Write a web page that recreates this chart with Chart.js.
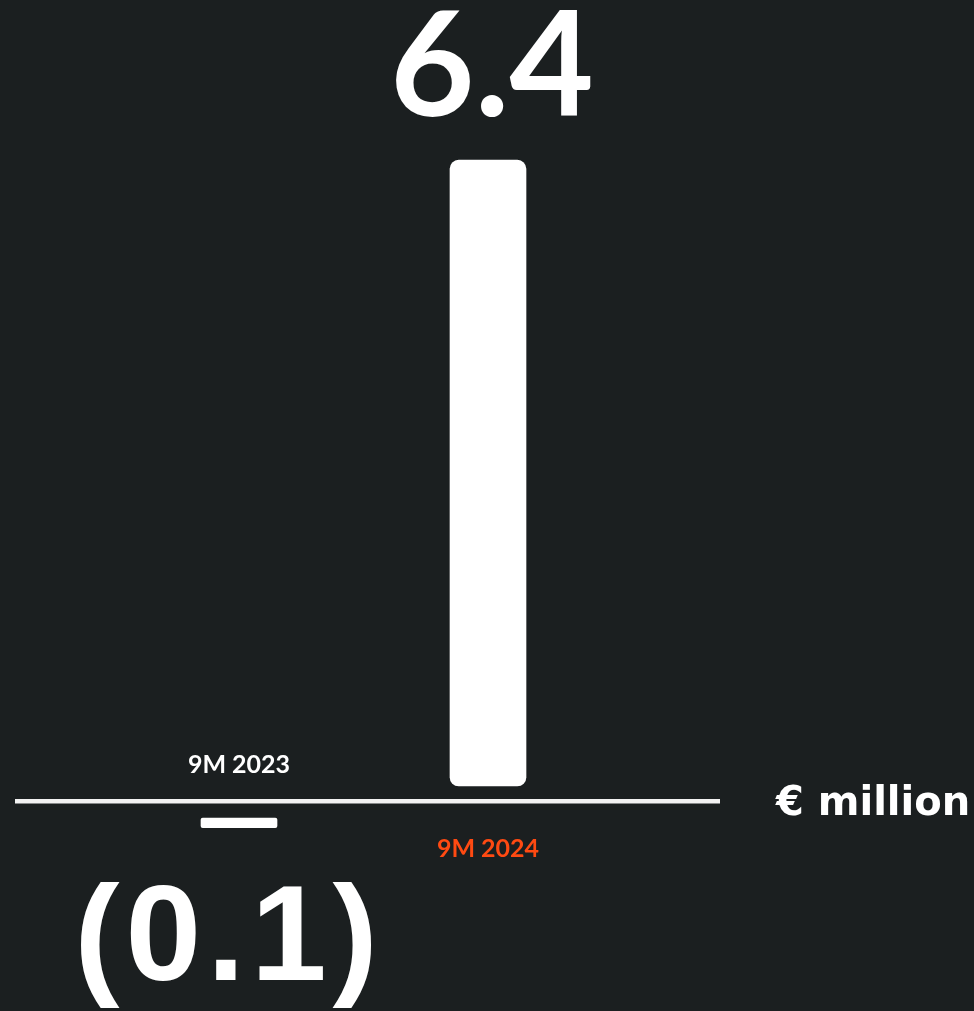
<!DOCTYPE html>
<html>
<head>
<meta charset="utf-8">
<script src="https://cdn.jsdelivr.net/npm/chart.js@4"></script>
<style>
  html, body { margin: 0; padding: 0; background: #1b1f20; }
  .chart-container { width: 974px; height: 1011px; position: relative; }
</style>
</head>
<body>
<div class="chart-container">
  <canvas id="chart"></canvas>
</div>
<script>
// Datos del gráfico
const categories = ['9M 2023', '9M 2024']
const values = [-0.1, 6.4]
const valueLabels = ['(0.1)', '6.4']
const unitLabel = '€ million'

const white = '#ffffff'
const orange = '#ff4a12'

// Separa las barras de la línea del eje
const barGap = { up: 15, down: 17 }

const gapPlugin = {
  id: 'gapPlugin',
  afterDatasetsUpdate(chart) {
    const meta = chart.getDatasetMeta(0)
    meta.data.forEach((bar, i) => {
      const shift = values[i] >= 0 ? -barGap.up : barGap.down
      bar.y += shift
      bar.base += shift
    })
  }
}

// Eje, etiquetas y valores
const labelsPlugin = {
  id: 'labelsPlugin',
  afterDatasetsDraw(chart) {
    const ctx = chart.ctx
    const x = chart.scales.x
    const y = chart.scales.y
    const zero = y.getPixelForValue(0)

    ctx.save()
    ctx.fillStyle = '#f2f2f2'
    ctx.fillRect(15, zero - 2, 705, 4.5)

    ctx.textAlign = 'center'
    ctx.textBaseline = 'alphabetic'

    categories.forEach((cat, i) => {
      const cx = x.getPixelForValue(i)
      const bar = chart.getDatasetMeta(0).data[i]
      ctx.font = 'bold 25px Lato'
      ctx.letterSpacing = '0px'
      if (values[i] >= 0) {
        ctx.fillStyle = orange
        ctx.fillText(cat, cx, zero + 56)
        ctx.fillStyle = white
        ctx.font = 'bold 146px Lato'
        ctx.fillText(valueLabels[i], cx + 4, bar.y - 44)
      } else {
        ctx.fillStyle = white
        ctx.fillText(cat, cx, zero - 28)
        ctx.font = 'bold 136px "Liberation Sans", Arial'
        ctx.letterSpacing = '6px'
        ctx.fillText(valueLabels[i], cx - 10, bar.y + 152)
      }
    })

    ctx.letterSpacing = '0px'
    ctx.fillStyle = white
    ctx.textAlign = 'left'
    ctx.font = 'bold 40px "DejaVu Sans"'
    ctx.fillText(unitLabel, 776, zero + 14)
    ctx.restore()
  }
}

const canvas = document.getElementById('chart')

new Chart(canvas, {
  type: 'bar',
  data: {
    labels: categories,
    datasets: [{
      data: values,
      backgroundColor: white,
      borderWidth: 0,
      borderSkipped: false,
      borderRadius: (c) => values[c.dataIndex] < 0 ? 2 : 9,
      barThickness: 76
    }]
  },
  options: {
    responsive: true,
    maintainAspectRatio: false,
    animation: false,
    layout: {
      padding: { top: 18.6, bottom: 14.4, left: 114.5, right: 361.5 }
    },
    scales: {
      x: { display: false, offset: true },
      y: { display: false, min: -2, max: 8 }
    },
    plugins: {
      legend: { display: false },
      tooltip: { enabled: false }
    }
  },
  plugins: [gapPlugin, labelsPlugin]
})
</script>
</body>
</html>
